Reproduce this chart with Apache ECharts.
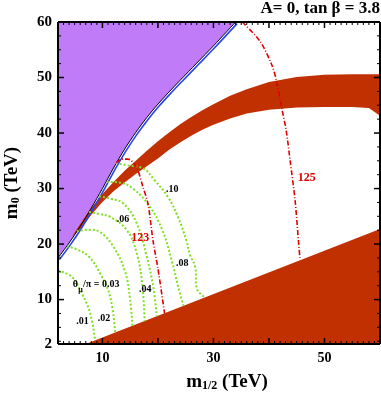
<!DOCTYPE html>
<html>
<head>
<meta charset="utf-8">
<script src="https://cdn.jsdelivr.net/npm/echarts@6/dist/echarts.min.js"></script>
<style>
  html, body { margin: 0; padding: 0; background: #fff; }
  #chart { width: 381px; height: 398px; }
</style>
</head>
<body>
<div id="chart"></div>
<script>
// axis ranges and ticks
const xRange = [2, 60]
const yRange = [2, 60]
const xLabelVals = [10, 30, 50]
const xMajorTicks = [10, 20, 30, 40, 50]
const yLabelVals = [2, 10, 20, 30, 40, 50, 60]
const yMajorTicks = [10, 20, 30, 40, 50]

// regions (m1/2, m0) in TeV
const purpleEdge = [[2, 17.5], [4, 20.2], [6, 23.2], [8, 26.5], [10, 30.0], [12, 33.7], [14, 37.1], [16, 40.1], [18, 42.8], [20, 45.2], [22, 47.4], [24, 49.5], [27, 52.6], [30, 55.7], [34, 60]]
const bandTop = [[4.5, 21.3], [6, 23.6], [8, 26.5], [10, 29.0], [12, 31.2], [14, 33.2], [16, 35.0], [18, 36.8], [20, 38.5], [22, 40.1], [24, 41.6], [26, 42.9], [28, 44.1], [30, 45.2], [33, 46.7], [36, 47.9], [40, 49.2], [45, 50.1], [50, 50.5], [55, 50.6], [60, 50.6]]
const bandBottom = [[4.5, 21.3], [6, 22.7], [8, 25.3], [10, 27.6], [12, 29.5], [14, 31.1], [16, 32.6], [18, 34.0], [20, 35.4], [22, 37.0], [24, 38.3], [26, 39.5], [28, 40.6], [30, 41.5], [33, 42.6], [36, 43.5], [40, 44.2], [45, 44.6], [50, 44.7], [55, 44.7], [58, 44.5], [60, 43.1]]
const wedge = [[7, 2], [60, 22.7], [60, 2]]

// Higgs mass contours
const mh123 = [[12.5, 34.6], [13.5, 35.3], [14.6, 35.3], [16.1, 33.9], [17.3, 30.3], [18.2, 27.3], [19.1, 20.7], [20.0, 15.6], [21.2, 7.5]]
const mh125 = [[35.2, 60], [38.4, 56.5], [40.5, 52.3], [41.4, 49.2], [42.3, 44.5], [43.1, 40.5], [43.8, 35.1], [44.7, 27.9], [45.3, 20.7], [45.6, 17.1]]

// theta_mu / pi contours
const theta01 = [[2, 15.2], [4.5, 14.1], [6.3, 11.1], [7.8, 7.5], [8.7, 2.6]]
const theta02 = [[3.6, 19.6], [5.5, 19.0], [7.5, 17.8], [9.6, 14.7], [11.4, 10.5], [12.3, 4.0]]
const theta03 = [[5.4, 22.3], [7.5, 22.6], [9.5, 22.2], [12, 19.5], [14.1, 15.0], [15, 9.9], [15.4, 5.2]]
const theta04 = [[7.6, 25.8], [9.5, 25.4], [11.4, 24.9], [14.4, 22.5], [16.2, 18.3], [17.2, 12.5], [17.6, 6.1]]
const theta06 = [[9.4, 28.6], [11.4, 28.2], [13.8, 27.3], [16.2, 23.7], [18, 17.7], [19.2, 12], [19.8, 7.0]]
const theta08 = [[10.8, 31.2], [13, 31.1], [15.5, 30.0], [18.5, 26.8], [20.8, 22.5], [22.5, 17], [23.6, 12.5], [24.6, 8.9]]
const theta10 = [[12.4, 34.6], [14.4, 34.2], [17.4, 33.6], [19.4, 31.5], [21.8, 28.5], [23.6, 24.9], [25.1, 20.7], [25.8, 18], [26.7, 15.9], [27.0, 12.0], [28.5, 10.4]]
const thetaCurves = [theta01, theta02, theta03, theta04, theta06, theta08, theta10]

// in-plot labels
const blackLabels = [
  { name: ".01", value: [6.4, 6.1] },
  { name: ".02", value: [10.3, 6.6] },
  { name: ".04", value: [17.7, 11.9] },
  { name: ".06", value: [13.7, 24.5] },
  { name: ".08", value: [24.4, 16.6] },
  { name: ".10", value: [22.6, 29.9] },
]
const thetaLabel = { value: [8.75, 12.3], sym: "θ", sub: "μ", rest: "/π = 0.03" }
const redLabels = [
  { name: "123", value: [16.8, 21.1] },
  { name: "125", value: [46.8, 32.0] },
]

const serif = "Liberation Serif"
const xMinorTicks = []
for (let v = 2; v <= 60; v += 1) if (v % 10 !== 0) xMinorTicks.push(v)
const yMinorTicks = []
for (let v = 2.5; v <= 60; v += 2.5) if (v % 10 !== 0) yMinorTicks.push(v)
const frameEdges = [
  [xRange[0], yRange[0], xRange[1], yRange[0]],
  [xRange[0], yRange[1], xRange[1], yRange[1]],
  [xRange[0], yRange[0], xRange[0], yRange[1]],
  [xRange[1], yRange[0], xRange[1], yRange[1]],
]

function polygonSeries(points, color) {
  return {
    type: "custom",
    data: [points[0]],
    silent: true,
    renderItem: (params, api) => ({
      type: "polygon",
      shape: { points: points.map(p => api.coord(p)) },
      style: { fill: color },
    }),
  }
}

function lineSeries(data, color, width, dash, smooth) {
  return {
    type: "line",
    data: data,
    showSymbol: false,
    smooth: smooth,
    silent: true,
    lineStyle: { color: color, width: width, type: dash },
  }
}

// inward ticks on both opposite sides, drawn above the filled regions
function tickSeries(vals, side, len, w) {
  return {
    type: "custom",
    data: vals.map(v => side === "x" ? [v, yRange[0]] : [xRange[0], v]),
    silent: true,
    z: 10,
    renderItem: (params, api) => {
      let a, b, c, d
      if (side === "x") {
        const v = api.value(0)
        a = api.coord([v, yRange[0]]); b = [a[0], a[1] - len]
        c = api.coord([v, yRange[1]]); d = [c[0], c[1] + len]
      } else {
        const v = api.value(1)
        a = api.coord([xRange[0], v]); b = [a[0] + len, a[1]]
        c = api.coord([xRange[1], v]); d = [c[0] - len, c[1]]
      }
      return {
        type: "group",
        children: [
          { type: "line", shape: { x1: a[0], y1: a[1], x2: b[0], y2: b[1] }, style: { stroke: "#000", lineWidth: w } },
          { type: "line", shape: { x1: c[0], y1: c[1], x2: d[0], y2: d[1] }, style: { stroke: "#000", lineWidth: w } },
        ],
      }
    },
  }
}

function frameSeries() {
  return {
    type: "custom",
    data: frameEdges,
    silent: true,
    z: 11,
    renderItem: (params, api) => {
      const a = api.coord([api.value(0), api.value(1)])
      const b = api.coord([api.value(2), api.value(3)])
      return { type: "line", shape: { x1: a[0], y1: a[1], x2: b[0], y2: b[1] }, style: { stroke: "#000", lineWidth: 2 } }
    },
  }
}

function textSeries(items, color, size) {
  return {
    type: "custom",
    data: items.map(it => it.value),
    silent: true,
    z: 12,
    renderItem: (params, api) => {
      const p = api.coord([api.value(0), api.value(1)])
      return {
        type: "text", x: p[0], y: p[1],
        style: { text: items[params.dataIndex].name, fill: color, font: "bold " + size + "px '" + serif + "'", align: "center", verticalAlign: "middle" },
      }
    },
  }
}

function thetaSeries(lab) {
  return {
    type: "custom",
    data: [lab.value],
    silent: true,
    z: 12,
    renderItem: (params, api) => {
      const p = api.coord([api.value(0), api.value(1)])
      const txt = (s, dx, dy, size, align) => ({
        type: "text", x: p[0] + dx, y: p[1] + dy,
        style: { text: s, fill: "#000", font: "bold " + size + "px '" + serif + "'", align: align, verticalAlign: "middle" },
      })
      return {
        type: "group",
        children: [
          txt(lab.sym, -20, -2, 10, "center"),
          txt(lab.sub, -15, 3, 8, "center"),
          txt(lab.rest, -12.5, -2, 10, "left"),
        ],
      }
    },
  }
}

const chart = echarts.init(document.getElementById("chart"), null, { renderer: "canvas" })

const series = [
  polygonSeries(purpleEdge.concat([[2, 60]]), "#c07cf8"),
  polygonSeries(bandTop.concat(bandBottom.slice().reverse()), "#c03000"),
  polygonSeries(wedge, "#c03000"),
  lineSeries(purpleEdge.map(p => [p[0] + 0.25, p[1] - 0.3]), "#2244ee", 1.6, "solid", 0.3),
  lineSeries(purpleEdge, "#000", 1, "solid", 0.3),
]
thetaCurves.forEach(c => series.push(lineSeries(c, "#7ee21e", 2, [2, 2], 0.4)))
series.push(lineSeries(mh123, "#e00000", 1.6, [5, 2, 1, 2], 0.3))
series.push(lineSeries(mh125, "#e00000", 1.6, [5, 2, 1, 2], 0.3))
series.push(tickSeries(xMinorTicks, "x", 3, 1))
series.push(tickSeries(xMajorTicks, "x", 6, 1.5))
series.push(tickSeries(yMinorTicks, "y", 3, 1))
series.push(tickSeries(yMajorTicks, "y", 6, 1.5))
series.push(frameSeries())
series.push(textSeries(blackLabels, "#000", 10))
series.push(thetaSeries(thetaLabel))
series.push(textSeries(redLabels, "#e00000", 12))
series.forEach(s => { s.xAxisIndex = 0; s.yAxisIndex = 0 })

chart.setOption({
  animation: false,
  backgroundColor: "#fff",
  title: {
    text: "A= 0, tan β = 3.8", right: 1, top: 0, padding: 0,
    textStyle: { fontFamily: serif, fontWeight: "bold", fontSize: 17, color: "#000" },
  },
  grid: { left: 58, top: 22, right: 1, bottom: 54, containLabel: false, outerBoundsMode: "none" },
  xAxis: {
    type: "value", min: xRange[0], max: xRange[1],
    axisLine: { show: false }, axisTick: { show: false }, splitLine: { show: false },
    axisLabel: { customValues: xLabelVals, color: "#000", fontFamily: serif, fontWeight: "bold", fontSize: 14, margin: 7 },
    name: "{m|m}{s|1/2}{m| (TeV)}", nameLocation: "middle", nameGap: 28,
    nameTextStyle: {
      padding: [0, 0, 0, 16],
      rich: {
        m: { fontFamily: serif, fontWeight: "bold", fontSize: 19, color: "#000" },
        s: { fontFamily: serif, fontWeight: "bold", fontSize: 12, color: "#000", verticalAlign: "bottom", padding: [8, 0, 0, 0] },
      },
    },
  },
  yAxis: {
    type: "value", min: yRange[0], max: yRange[1],
    axisLine: { show: false }, axisTick: { show: false }, splitLine: { show: false },
    axisLabel: { customValues: yLabelVals, color: "#000", fontFamily: serif, fontWeight: "bold", fontSize: 15, margin: 6 },
    name: "{m|m}{s|0}{m| (TeV)}", nameLocation: "middle", nameGap: 36, nameRotate: 90,
    nameTextStyle: {
      rich: {
        m: { fontFamily: serif, fontWeight: "bold", fontSize: 19, color: "#000" },
        s: { fontFamily: serif, fontWeight: "bold", fontSize: 12, color: "#000", verticalAlign: "bottom", padding: [8, 0, 0, 0] },
      },
    },
  },
  series: series,
})
</script>
</body>
</html>
